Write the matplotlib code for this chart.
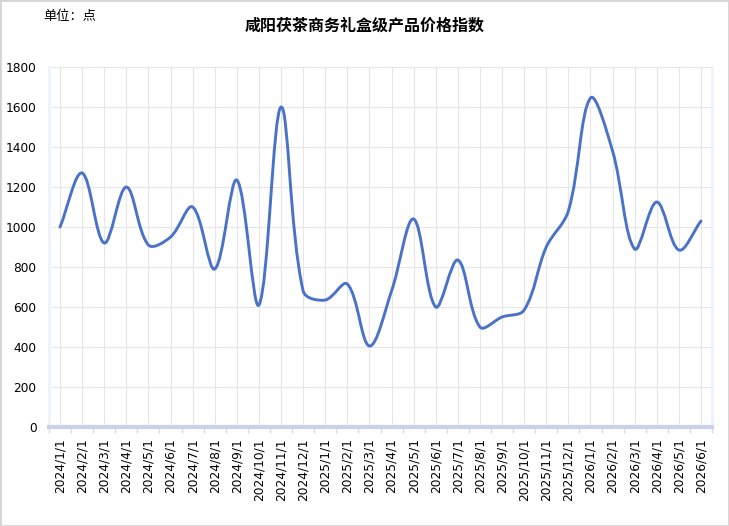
import numpy as np
import matplotlib
matplotlib.use('Agg')
import matplotlib.pyplot as plt
from matplotlib.path import Path
from matplotlib.patches import PathPatch, Rectangle

plt.rcParams['font.family'] = ['Noto Sans CJK SC', 'DejaVu Sans']

months = ['2024/1/1', '2024/2/1', '2024/3/1', '2024/4/1', '2024/5/1', '2024/6/1',
          '2024/7/1', '2024/8/1', '2024/9/1', '2024/10/1', '2024/11/1', '2024/12/1',
          '2025/1/1', '2025/2/1', '2025/3/1', '2025/4/1', '2025/5/1', '2025/6/1',
          '2025/7/1', '2025/8/1', '2025/9/1', '2025/10/1', '2025/11/1', '2025/12/1',
          '2026/1/1', '2026/2/1', '2026/3/1', '2026/4/1', '2026/5/1', '2026/6/1']
values = [1000, 1270, 920, 1200, 910, 950, 1100, 790, 1235, 610, 1600, 680,
          635, 715, 405, 680, 1040, 600, 835, 500, 550, 585, 900, 1080,
          1645, 1380, 890, 1125, 885, 1030]
y_ticks = [0, 200, 400, 600, 800, 1000, 1200, 1400, 1600, 1800]


def smooth_path(xs, ys, sx, sy, smooth=0.35):
    # bezier control points computed in pixel space
    px = np.asarray(xs, float) * sx
    py = np.asarray(ys, float) * sy
    n = len(px)
    cps = []
    for i in range(n):
        prev = i - 1 if i > 0 else i
        nxt = i + 1 if i < n - 1 else i
        vx = px[nxt] - px[prev]
        vy = py[nxt] - py[prev]
        d0 = np.hypot(px[i] - px[prev], py[i] - py[prev])
        d1 = np.hypot(px[nxt] - px[i], py[nxt] - py[i])
        s = d0 + d1
        if s > 0:
            d0 /= s
            d1 /= s
        c_in = (px[i] - vx * smooth * d0, py[i] - vy * smooth * d0)
        c_out = (px[i] + vx * smooth * d1, py[i] + vy * smooth * d1)
        cps.append((c_in, c_out))
    verts = [(px[0], py[0])]
    codes = [Path.MOVETO]
    for i in range(n - 1):
        verts += [cps[i][1], cps[i + 1][0], (px[i + 1], py[i + 1])]
        codes += [Path.CURVE4] * 3
    verts = [(a / sx, b / sy) for a, b in verts]
    return Path(verts, codes)


fig = plt.figure(figsize=(7.29, 5.26), dpi=100)
fig.patches.append(Rectangle((0, 0), 1, 1, transform=fig.transFigure, fill=False,
                             edgecolor='#d4d4d4', linewidth=2))
ax = fig.add_axes([0.0672, 0.1882, 0.9095, 0.6844])

x = np.arange(len(months))
ax.set_xlim(-0.5, len(months) - 0.5)
ax.set_ylim(0, 1800)

ax.add_patch(PathPatch(smooth_path(x, values, 22.07, 0.2), fill=False,
                       edgecolor='#4a72c8', linewidth=2.1, capstyle='round',
                       joinstyle='round', zorder=3))

ax.set_yticks(y_ticks)
ax.set_xticks(x)
ax.set_xticklabels(months, rotation=90, fontsize=8.8, family='DejaVu Sans')
ax.set_xticks(np.arange(len(months) + 1) - 0.5, minor=True)
ax.tick_params(axis='x', which='major', length=0, pad=8)
ax.tick_params(axis='x', which='minor', length=4, color='#d6dbe8', width=1)
ax.tick_params(axis='y', length=0, labelsize=8.7, pad=9)
for lab in ax.get_yticklabels():
    lab.set_family('DejaVu Sans')
ax.grid(True, color='#e6e6e6', linewidth=0.8)
ax.set_axisbelow(True)

ax.spines['top'].set_visible(False)
ax.spines['left'].set_color('#eef2fc')
ax.spines['left'].set_linewidth(2)
ax.spines['right'].set_color('#eef2fc')
ax.spines['right'].set_linewidth(2)
ax.spines['bottom'].set_color('#c9d2ea')
ax.spines['bottom'].set_linewidth(3)

fig.text(0.5, 0.952, '咸阳茯茶商务礼盒级产品价格指数', ha='center', va='center',
         fontsize=11.5, fontweight='bold')
fig.text(0.06, 0.968, '单位：点', ha='left', va='center', fontsize=9.5)

fig.savefig('out.png', dpi=100)
